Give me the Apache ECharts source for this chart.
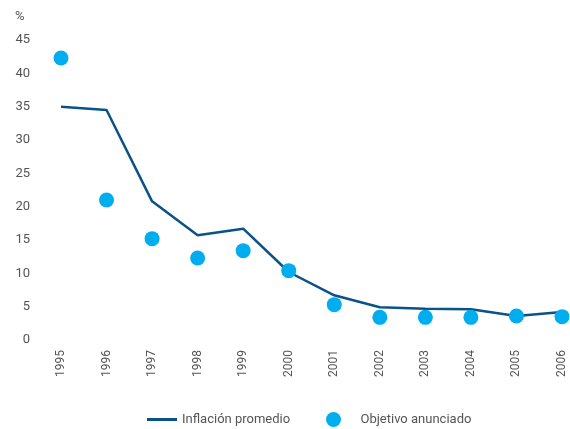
<!DOCTYPE html>
<html><head><meta charset="utf-8">
<script src="https://cdn.jsdelivr.net/npm/echarts@6/dist/echarts.min.js"></script>
<style>html,body{margin:0;padding:0;background:#fff}#c{width:570px;height:429px}</style>
</head><body><div id="c"></div>
<script>
const years = ['1995','1996','1997','1998','1999','2000','2001','2002','2003','2004','2005','2006'];
const inflacion = [35.0, 34.5, 20.8, 15.7, 16.7, 10.2, 6.7, 4.9, 4.7, 4.6, 3.6, 4.2];
const objetivo = [42.3, 21.0, 15.2, 12.3, 13.4, 10.4, 5.3, 3.4, 3.4, 3.4, 3.6, 3.5];
const yTicks = [0, 5, 10, 15, 20, 25, 30, 35, 40, 45];
const FONT = 'Roboto';
const chart = echarts.init(document.getElementById('c'), null, {renderer: 'canvas'});
chart.setOption({
  animation: false,
  backgroundColor: '#fff',
  grid: {left: 61, right: 8, top: 40, bottom: 89},
  graphic: [{type: 'text', left: 15, top: 10, style: {text: '%', fill: '#555', font: '13px ' + FONT}}],
  xAxis: {
    type: 'category', data: years, boundaryGap: false,
    axisLine: {show: false}, axisTick: {show: false},
    axisLabel: {rotate: 90, color: '#555', fontFamily: FONT, fontSize: 12, margin: 10}
  },
  yAxis: {
    type: 'value', min: yTicks[0], max: yTicks[yTicks.length - 1], interval: 5,
    axisLine: {show: false}, axisTick: {show: false}, splitLine: {show: false},
    axisLabel: {color: '#555', fontFamily: FONT, fontSize: 13, margin: 31}
  },
  legend: [
    {data: [{name: 'Inflación promedio', icon: 'rect'}], left: 142, top: 408,
     itemWidth: 30, itemHeight: 3, textStyle: {color: '#555', fontFamily: FONT, fontSize: 13}},
    {data: [{name: 'Objetivo anunciado', icon: 'circle'}], left: 321, top: 407,
     itemWidth: 44, itemHeight: 15, textStyle: {color: '#555', fontFamily: FONT, fontSize: 13}}
  ],
  series: [
    {name: 'Inflación promedio', type: 'line', data: inflacion, symbol: 'none',
     lineStyle: {color: '#0b5288', width: 2.5}, itemStyle: {color: '#0b5288'}, z: 2},
    {name: 'Objetivo anunciado', type: 'scatter', data: objetivo, symbolSize: 15,
     itemStyle: {color: '#00aeef', opacity: 1}, z: 3}
  ]
});
</script></body></html>
